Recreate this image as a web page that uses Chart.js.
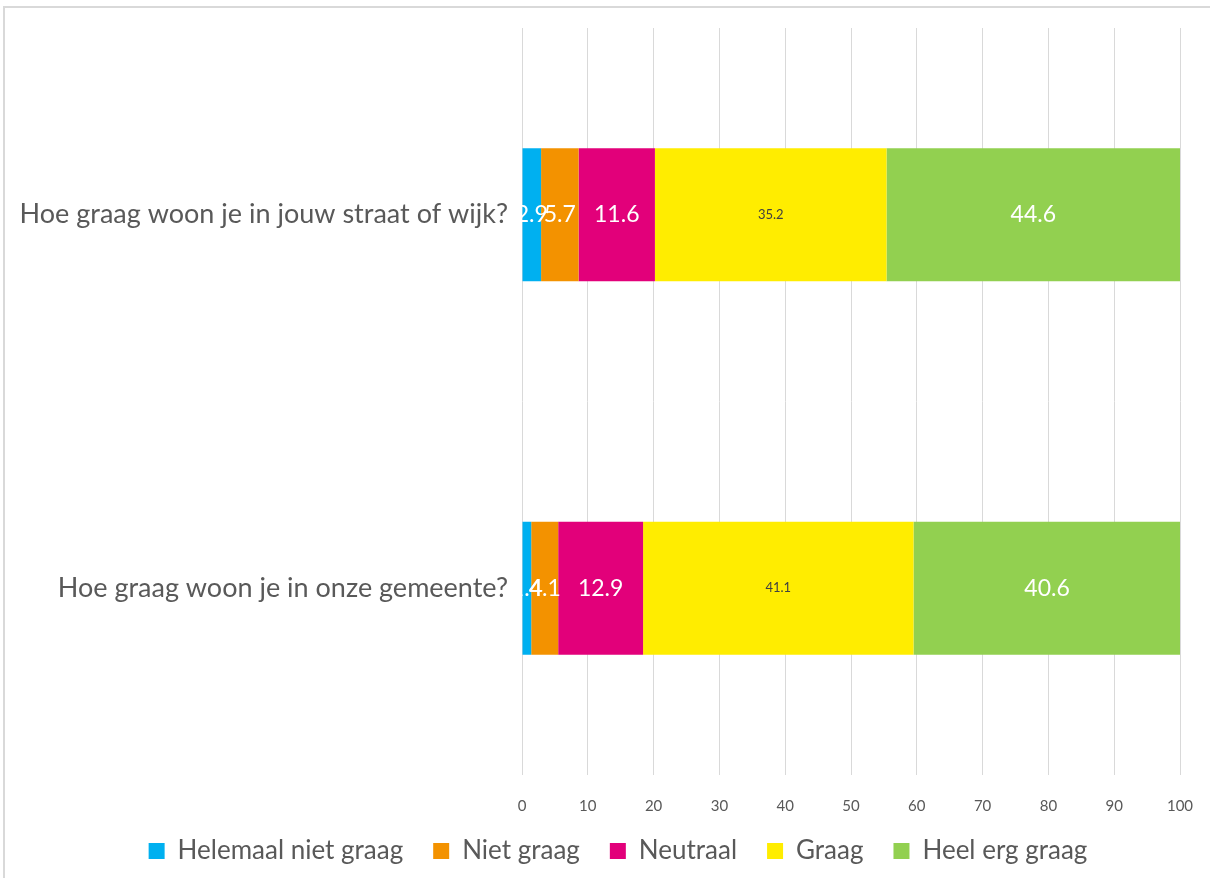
<!DOCTYPE html>
<html>
<head>
<meta charset="utf-8">
<script src="https://cdn.jsdelivr.net/npm/chart.js@4"></script>
<style>
  body { margin: 0; background: #fff; }
  #wrap { position: relative; width: 1210px; height: 878px; }
  #frame { position: absolute; left: 3px; top: 6px; right: 0; bottom: 0;
           border-top: 2px solid #d9d9d9; border-left: 2px solid #d9d9d9; pointer-events: none; }
</style>
</head>
<body>
<div id="wrap">
  <canvas id="chart" width="1210" height="878"></canvas>
  <div id="frame"></div>
</div>
<script>
// categories (top to bottom)
const questions = ['Hoe graag woon je in jouw straat of wijk?', 'Hoe graag woon je in onze gemeente?'];
const seriesNames = ['Helemaal niet graag', 'Niet graag', 'Neutraal', 'Graag', 'Heel erg graag'];
const helemaalNiet = [2.9, 1.4];
const nietGraag = [5.7, 4.1];
const neutraal = [11.6, 12.9];
const graag = [35.2, 41.1];
const heelErg = [44.6, 40.6];
const colors = ['#00b0f0', '#f39200', '#e2007a', '#ffed00', '#92d050'];
const labelColors = ['#ffffff', '#ffffff', '#ffffff', '#404040', '#ffffff'];
const labelSizes = [23, 23, 23, 13, 23];

const FONT = 'Lato, "Open Sans", sans-serif';
const GREY = '#595959';

// data labels in the middle of each segment
const segLabels = {
    id: 'segLabels',
    afterDatasetsDraw(chart) {
        const ctx = chart.ctx;
        ctx.save();
        ctx.textAlign = 'center';
        ctx.textBaseline = 'middle';
        chart.data.datasets.forEach((ds, i) => {
            const meta = chart.getDatasetMeta(i);
            meta.data.forEach((bar, j) => {
                const p = bar.getProps(['x', 'y', 'base'], true);
                ctx.fillStyle = labelColors[i];
                ctx.font = labelSizes[i] + 'px ' + FONT;
                ctx.fillText(ds.data[j].toFixed(1), (p.x + p.base) / 2, p.y);
            });
        });
        ctx.restore();
    }
};

// fixed legend height, and nudge it: the original sits right of centre
const legendPlace = {
    id: 'legendPlace',
    beforeLayout(chart) {
        const lg = chart.legend;
        if (lg && !lg._patched) {
            const fit = lg.fit;
            lg.fit = function() { fit.call(this); this.height = 58; };
            lg._patched = true;
        }
    },
    afterLayout(chart) {
        const lg = chart.legend;
        lg.left += 28; lg.right += 28;
        lg.top -= 12; lg.bottom -= 12;
    }
};

const allData = [helemaalNiet, nietGraag, neutraal, graag, heelErg];

new Chart(document.getElementById('chart'), {
    type: 'bar',
    data: {
        labels: questions,
        datasets: seriesNames.map((name, i) => ({
            label: name,
            data: allData[i],
            backgroundColor: colors[i],
            borderWidth: 0,
            categoryPercentage: 1,
            barPercentage: 0.356
        }))
    },
    options: {
        indexAxis: 'y',
        responsive: false,
        animation: false,
        layout: { padding: { top: 28, right: 30, left: 0, bottom: 0 } },
        plugins: {
            tooltip: { enabled: false },
            legend: {
                position: 'bottom',
                labels: {
                    boxWidth: 16, boxHeight: 16, padding: 30,
                    color: GREY, font: { family: FONT, size: 26 }
                }
            }
        },
        scales: {
            x: {
                stacked: true, min: 0, max: 100,
                afterFit: s => { s.height = 45; s.paddingLeft = 0; s.paddingRight = 0; },
                ticks: { stepSize: 10, color: GREY, padding: 22, font: { family: FONT, size: 15 } },
                grid: { color: '#d9d9d9', drawTicks: false },
                border: { display: false }
            },
            y: {
                stacked: true,
                afterFit: s => { s.width = 522; s.paddingTop = 0; s.paddingBottom = 0; },
                ticks: { color: GREY, padding: 14, font: { family: FONT, size: 27 } },
                grid: { display: false, drawTicks: false },
                border: { display: false }
            }
        }
    },
    plugins: [segLabels, legendPlace]
});
</script>
</body>
</html>
